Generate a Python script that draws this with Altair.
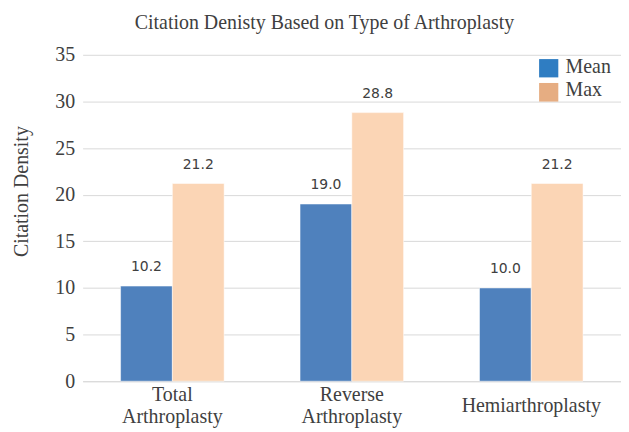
import altair as alt
import pandas as pd

categories = ["Total Arthroplasty", "Reverse Arthroplasty", "Hemiarthroplasty"]
series_order = ["Mean", "Max"]
mean_values = [10.2, 19.0, 10.0]
max_values = [21.2, 28.8, 21.2]
bar_colors = ["#4F81BD", "#FBD5B5"]
legend_colors = ["#2F7DC2", "#E6AD82"]
y_ticks = [0, 5, 10, 15, 20, 25, 30, 35]
title_text = "Citation Denisty Based on Type of Arthroplasty"

rows = []
for c, m, x in zip(categories, mean_values, max_values):
    rows.append({"category": c, "series": "Mean", "value": m})
    rows.append({"category": c, "series": "Max", "value": x})
df = pd.DataFrame(rows)

SERIF = "Liberation Serif"
TXT = "#404040"

base = alt.Chart(df).encode(
    x=alt.X(
        "category:N",
        sort=categories,
        scale=alt.Scale(paddingInner=0.423, paddingOuter=0.2115),
        axis=alt.Axis(
            title=None,
            labelAngle=0,
            labelExpr="split(datum.label, ' ')",
            labelFont=SERIF,
            labelFontSize=20,
            labelColor=TXT,
            labelLineHeight=23,
            labelBaseline="middle",
            labelPadding={
                "condition": {"test": "datum.value == 'Hemiarthroplasty'", "value": 24},
                "value": 13,
            },
            labelLimit=400,
            ticks=False,
            tickSize=0,
            domainColor="#D9D9D9",
            grid=False,
        ),
    ),
    xOffset=alt.XOffset("series:N", sort=series_order, scale=alt.Scale(paddingInner=0)),
    y=alt.Y(
        "value:Q",
        scale=alt.Scale(domain=[0, 35]),
        axis=alt.Axis(
            values=y_ticks,
            title="Citation Density",
            grid=True,
            gridColor="#D9D9D9",
            domain=False,
            ticks=False,
            labelPadding=8,
            labelFont=SERIF,
            labelFontSize=20,
            labelColor=TXT,
            titleFont=SERIF,
            titleFontSize=20,
            titleFontWeight="normal",
            titleColor=TXT,
            titleAngle=-90,
            titleX=-61,
            titleY=137,
            titleAlign="center",
            titleBaseline="middle",
        ),
    ),
)

bars = base.mark_bar(stroke="white", strokeWidth=0.5).encode(
    color=alt.Color(
        "series:N",
        scale=alt.Scale(domain=series_order, range=bar_colors),
        legend=None,
    )
)

labels = base.mark_text(
    dy=-15, baseline="alphabetic", font="DejaVu Sans", fontSize=14, color=TXT
).encode(text=alt.Text("value:Q", format=".1f"))

title_layer = alt.Chart(pd.DataFrame({"t": [title_text]})).mark_text(
    align="center", baseline="alphabetic", font=SERIF, fontSize=20, color=TXT
).encode(x=alt.value(243), y=alt.value(-26), text="t:N")

leg_layers = []
leg_y = [(4.3, 22.7, 18.3), (28.3, 47.0, 41.7)]
for name, col, (y0, y1, yt) in zip(series_order, legend_colors, leg_y):
    ldf = pd.DataFrame({"label": [name]})
    leg_layers.append(
        alt.Chart(ldf).mark_rect(color=col).encode(
            x=alt.value(458.7), x2=alt.value(478), y=alt.value(y0), y2=alt.value(y1)
        )
    )
    leg_layers.append(
        alt.Chart(ldf).mark_text(
            align="left", baseline="alphabetic", font=SERIF, fontSize=20, color=TXT
        ).encode(x=alt.value(485.3), y=alt.value(yt), text="label:N")
    )

chart = alt.layer(bars, labels, title_layer, *leg_layers).properties(
    width=541,
    height=328,
    autosize="none",
    padding={"left": 75, "top": 46, "right": 0, "bottom": 48},
).configure_view(stroke=None)

chart.save("out.html", embed_options={"renderer": "svg", "actions": False})
